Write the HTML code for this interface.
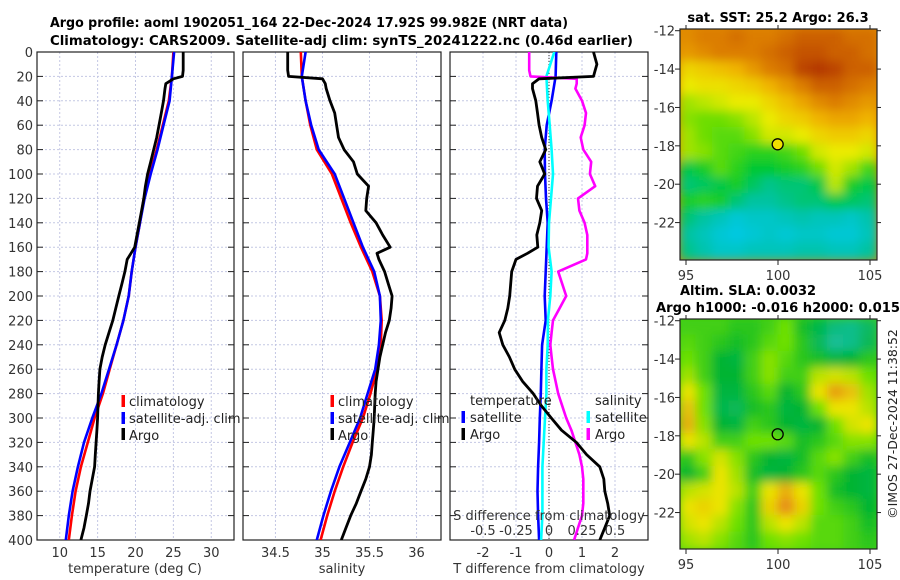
<!DOCTYPE html>
<html><head><meta charset="utf-8"><style>
html,body{margin:0;padding:0;background:#fff;}
svg{display:block;font-family:"DejaVu Sans","Liberation Sans",sans-serif;}
</style></head><body>
<svg id="fig" width="900" height="580" viewBox="0 0 900 580" xmlns="http://www.w3.org/2000/svg">
<defs>
<clipPath id="c1"><rect x="37" y="52" width="197" height="488"/></clipPath>
<clipPath id="c2"><rect x="243" y="52" width="198" height="488"/></clipPath>
<clipPath id="c3"><rect x="450" y="52" width="198" height="488"/></clipPath>
<clipPath id="m1"><rect x="680" y="29" width="197" height="231"/></clipPath>
<clipPath id="m2"><rect x="680" y="319" width="197" height="230"/></clipPath>
<filter id="bl" x="-5%" y="-5%" width="110%" height="110%"><feGaussianBlur stdDeviation="5"/></filter>
<filter id="bl2" x="-5%" y="-5%" width="110%" height="110%"><feGaussianBlur stdDeviation="2"/></filter>
</defs>
<text x="50" y="27" font-weight="bold" font-size="13.5" textLength="518" lengthAdjust="spacingAndGlyphs">Argo profile: aoml 1902051_164 22-Dec-2024 17.92S 99.982E (NRT data)</text>
<text x="50" y="45" font-weight="bold" font-size="13.5" textLength="583" lengthAdjust="spacingAndGlyphs">Climatology: CARS2009. Satellite-adj clim: synTS_20241222.nc (0.46d earlier)</text>
<g id="panels"></g>
<g id="maps"></g>
<text x="778" y="22" text-anchor="middle" font-weight="bold" font-size="13">sat. SST: 25.2 Argo: 26.3</text>
<text x="680" y="295" font-weight="bold" font-size="13">Altim. SLA: 0.0032</text>
<text x="656" y="312" font-weight="bold" font-size="13" textLength="244" lengthAdjust="spacingAndGlyphs">Argo h1000: -0.016 h2000: 0.015</text>
<text transform="translate(897,424) rotate(-90)" text-anchor="middle" font-size="12.5" fill="#222">©IMOS 27-Dec-2024 11:38:52</text>
</svg>
<script>
// ---------- profile data ----------
const climDepth = [0,20,40,60,80,100,120,140,160,180,200,220,240,260,280,300,320,340,360,380,400];
const climT = [25.0,24.8,24.4,23.6,22.8,21.9,21.1,20.6,20.0,19.5,19.1,18.4,17.5,16.6,15.7,14.6,13.7,12.8,12.1,11.6,11.2];
const satT  = [25.1,24.8,24.5,23.7,22.9,22.0,21.2,20.6,20.0,19.5,19.1,18.4,17.5,16.5,15.5,14.3,13.2,12.4,11.7,11.2,10.8];
const climS = [34.77,34.78,34.82,34.87,34.94,35.10,35.20,35.30,35.41,35.53,35.61,35.63,35.62,35.58,35.51,35.43,35.32,35.22,35.13,35.05,34.98];
const satS  = [34.82,34.78,34.82,34.88,34.96,35.13,35.23,35.33,35.43,35.55,35.61,35.62,35.60,35.56,35.48,35.40,35.29,35.18,35.09,35.01,34.94];
const satTdiff = [0.22,0.2,0.08,-0.07,-0.13,-0.12,-0.09,-0.04,-0.07,-0.1,-0.13,-0.1,-0.21,-0.23,-0.25,-0.28,-0.3,-0.33,-0.35,-0.33,-0.3];
const satSdiff = [0.04,-0.02,-0.01,0.005,0.02,0.03,0.015,0.0,-0.003,0.02,0.01,-0.008,-0.01,-0.02,-0.02,-0.03,-0.04,-0.05,-0.05,-0.05,-0.06];
const argoDepth = [0,5,10,15,20,22,26,30,40,50,60,70,80,90,100,110,120,130,140,150,160,165,170,180,190,200,210,220,230,240,250,260,270,280,290,300,310,320,330,340,350,360,370,380,390,400];
const argoT = [26.3,26.3,26.3,26.3,26.2,25.0,24.0,23.9,23.7,23.4,23.1,22.8,22.4,22.0,21.6,21.3,21.1,20.8,20.5,20.2,19.9,19.4,18.9,18.6,18.2,17.8,17.4,17.0,16.5,16.0,15.6,15.3,15.2,15.1,15.05,15.0,14.9,14.8,14.7,14.6,14.3,14.0,13.8,13.5,13.2,12.8];
const argoS = [34.63,34.63,34.63,34.63,34.64,35.0,35.03,35.04,35.08,35.13,35.15,35.17,35.23,35.33,35.37,35.49,35.47,35.46,35.57,35.64,35.72,35.58,35.6,35.66,35.7,35.74,35.73,35.71,35.67,35.64,35.61,35.59,35.57,35.56,35.555,35.55,35.54,35.53,35.52,35.5,35.46,35.41,35.36,35.30,35.25,35.2];
const argoTdiff = [1.35,1.4,1.45,1.4,1.35,-0.3,-0.5,-0.5,-0.4,-0.35,-0.3,-0.22,-0.1,-0.28,-0.13,-0.35,-0.38,-0.22,-0.28,-0.37,-0.34,-0.65,-1.0,-1.13,-1.16,-1.19,-1.25,-1.34,-1.51,-1.4,-1.2,-1.04,-0.8,-0.48,-0.23,0.07,0.38,0.83,1.14,1.54,1.66,1.69,1.78,1.84,1.69,1.54];
const argoSdiff = [-0.15,-0.15,-0.15,-0.15,-0.14,0.21,0.21,0.20,0.25,0.28,0.27,0.24,0.26,0.32,0.31,0.35,0.22,0.23,0.27,0.29,0.29,0.29,0.28,0.07,0.1,0.13,0.08,0.03,0.02,0.01,0.02,0.03,0.05,0.07,0.1,0.13,0.17,0.2,0.23,0.25,0.26,0.26,0.26,0.25,0.22,0.19];
const depthTicks = [0,20,40,60,80,100,120,140,160,180,200,220,240,260,280,300,320,340,360,380,400];
const tTicks = [10,15,20,25,30];
const sTicks = [34.5,35,35.5,36];
const dTTicks = [-2,-1,0,1,2];
const dSTickLabels = ["-0.5","-0.25","0","0.25","0.5"];
const dSTicks = [-0.5,-0.25,0,0.25,0.5];

// ---------- map data ----------
const sstGrid = [
[25.9,26.0,26.0,26.1,26.0,26.0,26.1,26.2,26.2,26.2,26.1,26.1],
[25.8,25.9,26.0,26.0,26.0,26.1,26.2,26.3,26.3,26.2,26.2,26.1],
[25.3,25.4,25.5,25.6,25.8,26.0,26.1,26.4,26.5,26.4,26.2,26.2],
[25.1,25.2,25.2,25.3,25.4,25.6,25.8,26.0,26.2,26.2,26.1,26.0],
[24.8,24.9,25.0,25.1,25.1,25.3,25.5,25.7,25.9,26.0,25.9,25.8],
[24.7,24.6,24.6,24.7,24.9,25.1,25.3,25.4,25.6,25.7,25.7,25.6],
[24.8,24.6,24.5,24.5,24.7,25.0,25.0,25.1,25.3,25.4,25.4,25.3],
[24.8,24.7,24.5,24.4,24.3,24.3,24.4,24.6,25.0,25.1,25.1,25.0],
[24.0,24.2,24.5,24.3,24.1,24.1,24.2,24.3,24.6,25.0,24.8,24.4],
[23.8,23.9,24.0,24.2,23.9,23.7,23.8,23.8,24.0,24.9,24.2,24.0],
[24.2,24.3,24.2,23.8,23.6,23.6,23.7,23.8,23.8,24.0,23.9,23.8],
[23.8,23.6,23.4,23.2,23.3,23.3,23.4,23.5,23.4,23.4,23.3,23.5],
[23.6,23.4,23.2,23.1,23.2,23.3,23.2,23.3,23.3,23.2,23.2,23.4],
[23.7,23.5,23.3,23.3,23.4,23.4,23.4,23.5,23.5,23.4,23.4,23.6]];
const slaGrid = [
[0.3,0.3,0.3,0.2,0.2,0.3,0.5,0.1,-0.2,-0.6,-0.7,-0.4],
[0.4,0.3,0.2,0.1,0.2,0.4,0.5,0.2,-0.3,-0.8,-0.7,-0.3],
[0.5,0.3,0.0,-0.1,0.3,0.6,0.4,0.2,0.1,-0.1,0.0,0.2],
[0.7,0.3,0.0,0.0,0.3,0.6,0.3,0.3,0.8,0.9,0.8,0.5],
[1.0,0.5,-0.1,-0.1,0.2,0.4,0.0,0.2,1.0,1.4,1.2,0.7],
[1.2,0.5,-0.2,-0.3,0.1,0.2,-0.1,0.0,0.5,1.0,1.0,0.8],
[1.3,0.6,0.0,-0.1,0.3,0.2,0.0,-0.1,0.0,0.5,0.9,1.0],
[1.0,0.8,0.3,0.3,0.5,0.5,0.4,0.1,0.2,0.4,0.6,0.6],
[0.2,0.6,0.9,0.6,0.2,0.0,-0.1,0.1,0.4,0.6,0.3,0.1],
[0.0,0.3,1.0,0.7,0.1,-0.1,0.0,0.2,0.4,0.2,0.0,-0.1],
[0.8,0.9,1.0,0.8,0.3,1.0,1.3,1.0,0.5,0.1,0.0,-0.1],
[1.0,1.1,1.0,0.6,0.2,1.1,1.5,1.1,0.5,0.3,0.2,0.0],
[0.9,1.0,0.8,0.5,0.2,0.8,1.0,0.8,0.4,0.4,0.3,0.1],
[0.7,0.8,0.6,0.4,0.2,0.5,0.6,0.5,0.4,0.4,0.3,0.2]];
const latTicks = [-12,-14,-16,-18,-20,-22];
const lonTicks = [95,100,105];
const argoLon = 99.982, argoLat = -17.92;

const NS="http://www.w3.org/2000/svg";
const P=document.getElementById('panels');
const M=document.getElementById('maps');
function el(tag,attrs,parent){const e=document.createElementNS(NS,tag);for(const k in attrs)e.setAttribute(k,attrs[k]);(parent||P).appendChild(e);return e;}
const Y0=52,Y1=540;
function yD(d){return Y0+(d/400)*(Y1-Y0);}
function scaleX(x0,x1,v0,v1){return v=>x0+(v-v0)/(v1-v0)*(x1-x0);}

function panelFrame(x0,x1,xTicks,xs,labelFmt,name,showY){
  const g=el('g',{});
  
  
  depthTicks.forEach(d=>{
    const l=el('line',{x1:x0,x2:x1,y1:yD(d),y2:yD(d),stroke:'#c4c8e4','stroke-width':1,'stroke-dasharray':'2,2'},g);
    
    
    el('line',{x1:x0,x2:x0+6,y1:yD(d),y2:yD(d),stroke:'#222','stroke-width':1},g);
    el('line',{x1:x1-6,x2:x1,y1:yD(d),y2:yD(d),stroke:'#222','stroke-width':1},g);
    if(showY){
      const t=el('text',{x:33,y:yD(d)+5,'text-anchor':'end','font-size':13,fill:'#333'},g);
      
      
      t.textContent=d;
    }
  });
  xTicks.forEach(v=>{
    const x=xs(v);
    const l=el('line',{x1:x,x2:x,y1:Y0,y2:Y1,stroke:'#c4c8e4','stroke-width':1,'stroke-dasharray':'2,2'},g);
    
    
    const t=el('text',{x:x,y:557,'text-anchor':'middle','font-size':13,fill:'#333'},g);
    
    
    t.textContent=labelFmt(v);
  });
  const r=el('rect',{x:x0,y:Y0,width:x1-x0,height:Y1-Y0,fill:'none',stroke:'#222','stroke-width':1.2},g);
  
  
  return g;
}
function line(vals,depths,xs,color,w,clip,name){
  const pts=vals.map((v,i)=>xs(v).toFixed(1)+','+yD(depths[i]).toFixed(1)).join(' ');
  const p=el('polyline',{points:pts,fill:'none',stroke:color,'stroke-width':w,'stroke-linejoin':'round','clip-path':'url(#'+clip+')'});
  
  
}
function txt(x,y,s,name,opts){
  const t=el('text',Object.assign({x:x,y:y,'font-size':13,fill:'#222'},opts||{}));
  
  
  t.textContent=s;return t;
}
function legBar(x,y,color,name){
  const r=el('rect',{x:x-1.5,y:y-6,width:3.5,height:12,fill:color});
  
  
}

// Panel 1: temperature
const xT=scaleX(37,234,7,33);
panelFrame(37,234,tTicks,xT,v=>v,'temperature-panel',true);
line(climT,climDepth,xT,'#ff0000',2.6,'c1','climatology-temperature-line');
line(satT,climDepth,xT,'#0000ff',2.6,'c1','satellite-temperature-line');
line(argoT,argoDepth,xT,'#000',2.8,'c1','argo-temperature-line');
txt(135,573,'temperature (deg C)','x-axis-title-temperature',{'text-anchor':'middle',fill:'#333'});
legBar(123,401,'#ff0000','legend-swatch-climatology');
txt(129,406,'climatology','legend-label-climatology');
legBar(123,418,'#0000ff','legend-swatch-satellite');
txt(129,423,'satellite-adj. clim','legend-label-satellite');
legBar(123,434,'#000','legend-swatch-argo');
txt(129,440,'Argo','legend-label-argo');

// Panel 2: salinity
const xS=scaleX(243,441,34.155,36.26);
panelFrame(243,441,sTicks,xS,v=>v,'salinity-panel',false);
line(climS,climDepth,xS,'#ff0000',2.6,'c2','climatology-salinity-line');
line(satS,climDepth,xS,'#0000ff',2.6,'c2','satellite-salinity-line');
line(argoS,argoDepth,xS,'#000',2.8,'c2','argo-salinity-line');
txt(342,573,'salinity','x-axis-title-salinity',{'text-anchor':'middle',fill:'#333'});
legBar(332,401,'#ff0000','legend-swatch-climatology-s');
txt(338,406,'climatology','legend-label-climatology-s');
legBar(332,418,'#0000ff','legend-swatch-satellite-s');
txt(338,423,'satellite-adj. clim','legend-label-satellite-s');
legBar(332,434,'#000','legend-swatch-argo-s');
txt(338,440,'Argo','legend-label-argo-s');

// Panel 3: differences
const xDT=scaleX(450,648,-3,3);
const xDS=scaleX(450,648,-0.75,0.75);
panelFrame(450,648,dTTicks,xDT,v=>v,'difference-panel',false);
const zl=el('line',{x1:xDT(0),x2:xDT(0),y1:Y0,y2:Y1,stroke:'#333','stroke-width':1,'stroke-dasharray':'1,2'});


line(satTdiff,climDepth,xDT,'#0000ff',2.6,'c3','satellite-temperature-diff-line');
line(satSdiff,climDepth,xDS,'#00ffff',2.6,'c3','satellite-salinity-diff-line');
line(argoSdiff,argoDepth,xDS,'#ff00ff',2.6,'c3','argo-salinity-diff-line');
line(argoTdiff,argoDepth,xDT,'#000',2.8,'c3','argo-temperature-diff-line');
txt(549,573,'T difference from climatology','x-axis-title-tdiff',{'text-anchor':'middle',fill:'#333'});
txt(549,520,'S difference from climatology','s-axis-title',{'text-anchor':'middle',fill:'#333'});
dSTicks.forEach((v,i)=>{txt(xDS(v),535,dSTickLabels[i],'s-tick-label',{'text-anchor':'middle',fill:'#333'});});
txt(470,405,'temperature','legend-heading-temperature');
txt(595,405,'salinity','legend-heading-salinity');
legBar(463,417,'#0000ff','legend-swatch-sat-t');
txt(470,422,'satellite','legend-label-sat-t');
legBar(463,434,'#000','legend-swatch-argo-t');
txt(470,439,'Argo','legend-label-argo-t');
legBar(588,417,'#00ffff','legend-swatch-sat-s');
txt(595,422,'satellite','legend-label-sat-s');
legBar(588,434,'#ff00ff','legend-swatch-argo-s2');
txt(595,439,'Argo','legend-label-argo-s2');

// ---------- maps ----------
function lerpStops(stops,v){
  if(v<=stops[0][0])return stops[0][1];
  for(let i=1;i<stops.length;i++){if(v<=stops[i][0]){const a=stops[i-1],b=stops[i];const f=(v-a[0])/(b[0]-a[0]);
    return a[1].map((c,k)=>Math.round(c+(b[1][k]-c)*f));}}
  return stops[stops.length-1][1];
}
const sstStops=[[23.1,[0,200,225]],[23.6,[0,195,160]],[24.1,[0,200,50]],[24.6,[110,222,0]],[25.1,[235,235,0]],[25.6,[240,180,0]],[26.0,[220,125,0]],[26.5,[180,55,0]]];
const slaStops=[[-0.8,[20,190,150]],[0,[0,180,50]],[0.5,[110,225,0]],[1.0,[235,228,0]],[1.5,[230,140,20]]];
function drawMap(grid,stops,x0,y0,w,h,clip,name,latTop,latBot,filled){
  const g=el('g',{},M);
  
  
  const inner=el('g',{'clip-path':'url(#'+clip+')'},g);
  el('rect',{x:x0,y:y0,width:w,height:h,fill:'rgb('+lerpStops(stops,grid[0][0]).join(',')+')'},inner);
  const fg=el('g',{filter:'url(#bl)'},inner);
  const rows=grid.length,cols=grid[0].length,cw=w/cols,ch=h/rows;
  grid.forEach((row,r)=>row.forEach((v,c)=>{
    const cell=el('rect',{x:(x0+c*cw-1).toFixed(1),y:(y0+r*ch-1).toFixed(1),width:(cw+2).toFixed(1),height:(ch+2).toFixed(1),fill:'rgb('+lerpStops(stops,v).join(',')+')'},fg);
    
    
  }));
  const lonS=scaleX(686,870,95,105);
  const latS=v=>y0+1.7+(latTop-v)/(latTop-latBot)*(h-1.7);
  el('rect',{x:x0,y:y0,width:w,height:h,fill:'none',stroke:'#222','stroke-width':1.2},g);
  latTicks.forEach(v=>{
    const y=latS(v);
    el('line',{x1:x0-5,x2:x0,y1:y,y2:y,stroke:'#222'},g);
    el('line',{x1:x0+w,x2:x0+w+4,y1:y,y2:y,stroke:'#222'},g);
    const t=el('text',{x:675,y:y+5,'text-anchor':'end','font-size':13,fill:'#333'},g);
    
    
    t.textContent=v;
  });
  lonTicks.forEach(v=>{
    const x=lonS(v);
    el('line',{x1:x,x2:x,y1:y0+h,y2:y0+h+5,stroke:'#222'},g);
    el('line',{x1:x,x2:x,y1:y0-4,y2:y0,stroke:'#222'},g);
    const t=el('text',{x:x,y:y0+h+20,'text-anchor':'middle','font-size':13,fill:'#333'},g);
    
    
    t.textContent=v;
  });
  const c=el('circle',{cx:lonS(argoLon),cy:latS(argoLat),r:5.5,fill:filled?'#f0e000':'none',stroke:'#000','stroke-width':1.3},g);
  
  
}
drawMap(sstGrid,sstStops,680,29,197,231,'m1','sst-map',-12,-23.95,true);
drawMap(slaGrid,slaStops,680,319,197,230,'m2','sla-map',-12,-23.9,false);
</script>
</body></html>
